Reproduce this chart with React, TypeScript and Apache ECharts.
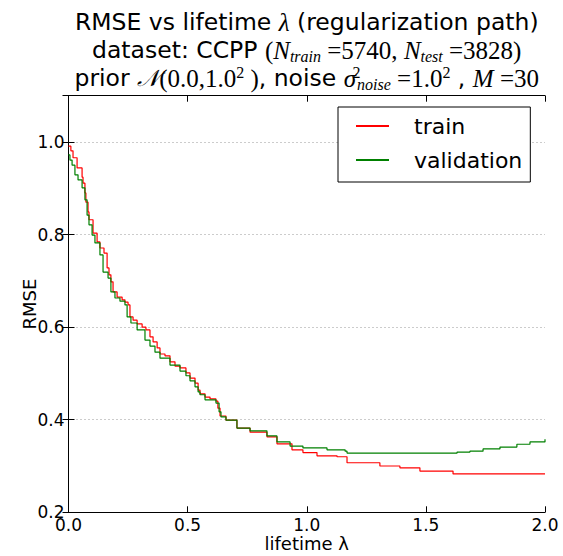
import React, { useEffect, useRef } from "react";
import * as echarts from "echarts";

const trainX = [0, 0.010, 0.019, 0.036, 0.057, 0.061, 0.069, 0.073, 0.082, 0.086, 0.103, 0.120, 0.132, 0.149, 0.162, 0.170, 0.178, 0.187, 0.204, 0.225, 0.237, 0.250, 0.258, 0.271, 0.288, 0.309, 0.325, 0.342, 0.355, 0.372, 0.384, 0.405, 0.426, 0.447, 0.468, 0.493, 0.510, 0.531, 0.544, 0.552, 0.573, 0.594, 0.619, 0.627, 0.636, 0.661, 0.707, 0.762, 0.833, 0.875, 0.938, 0.984, 1.043, 1.127, 1.169, 1.307, 1.391, 1.475, 1.614, 1.811, 2.0];
const trainY = [0.991, 0.981, 0.966, 0.944, 0.924, 0.911, 0.890, 0.870, 0.849, 0.832, 0.803, 0.784, 0.771, 0.760, 0.728, 0.713, 0.698, 0.676, 0.665, 0.659, 0.654, 0.648, 0.622, 0.615, 0.607, 0.600, 0.594, 0.579, 0.568, 0.555, 0.542, 0.538, 0.525, 0.516, 0.512, 0.501, 0.490, 0.479, 0.464, 0.456, 0.449, 0.445, 0.440, 0.425, 0.408, 0.399, 0.382, 0.373, 0.363, 0.348, 0.335, 0.329, 0.322, 0.320, 0.307, 0.300, 0.296, 0.289, 0.283, 0.283, 0.283];

const valX = [0, 0.006, 0.015, 0.027, 0.040, 0.057, 0.069, 0.078, 0.086, 0.099, 0.111, 0.132, 0.145, 0.166, 0.178, 0.195, 0.216, 0.237, 0.246, 0.262, 0.288, 0.321, 0.342, 0.363, 0.384, 0.426, 0.468, 0.493, 0.510, 0.531, 0.544, 0.552, 0.573, 0.619, 0.632, 0.640, 0.661, 0.707, 0.762, 0.833, 0.875, 0.930, 0.984, 1.085, 1.161, 1.169, 1.307, 1.530, 1.631, 1.685, 1.740, 1.811, 1.882, 1.937, 2.0];
const valY = [0.972, 0.961, 0.950, 0.929, 0.918, 0.901, 0.875, 0.842, 0.821, 0.799, 0.782, 0.756, 0.719, 0.706, 0.676, 0.663, 0.656, 0.648, 0.622, 0.609, 0.594, 0.572, 0.559, 0.546, 0.533, 0.518, 0.505, 0.495, 0.484, 0.471, 0.460, 0.454, 0.443, 0.436, 0.417, 0.406, 0.399, 0.382, 0.376, 0.365, 0.352, 0.343, 0.339, 0.335, 0.332, 0.328, 0.328, 0.328, 0.330, 0.332, 0.337, 0.341, 0.347, 0.352, 0.358];

const seriesNames = ["train", "validation"];
const xTicks = { min: 0, max: 2, interval: 0.5 };
const yTicks = { min: 0.2, max: 1.1, interval: 0.2 };

const titleLines = [
  "RMSE vs lifetime {mi|λ} (regularization path)",
  "dataset: CCPP {mu|(}{mi|N}{s|train}{mu| =5740, }{mi|N}{s|test}{mu| =3828)}",
  "prior {mc|𝒩}{mu|(0.0,1.0}{p|2}{mu| )}, noise {mi|σ}{p0|2}{s|noise}{mu| =1.0}{p|2} , {mi|M}{mu| =30}",
];

const SANS = "'DejaVu Sans', sans-serif";
const SERIF = "'Liberation Serif', 'DejaVu Serif', serif";

export default function App() {
  const ref = useRef<HTMLDivElement>(null);
  useEffect(() => {
    const chart = echarts.init(ref.current!, null, { renderer: "svg" });
    const zip = (xs: number[], ys: number[]) => xs.map((x, i) => [x, ys[i]]);
    const fmt1 = (v: number) => v.toFixed(1);
    const frame = { show: true, lineStyle: { color: "#000", width: 1 } };
    chart.setOption({
      animation: false,
      backgroundColor: "#fff",
      grid: { left: 68.5, right: 18, top: 95.7, bottom: 43.7, containLabel: false, outerBoundsMode: "none" },
      graphic: [
        {
          type: "text",
          x: 306.75,
          y: 8,
          style: {
            text: titleLines.join("\n"),
            align: "center",
            verticalAlign: "top",
            fontFamily: SANS,
            fontSize: 23.5,
            lineHeight: 28,
            fill: "#000",
            rich: {
              mi: { fontFamily: SERIF, fontStyle: "italic", fontSize: 25, lineHeight: 28 },
              mc: { fontFamily: SERIF, fontStyle: "italic", fontSize: 23, lineHeight: 28 },
              mu: { fontFamily: SERIF, fontSize: 25, lineHeight: 28 },
              s: { fontFamily: SERIF, fontStyle: "italic", fontSize: 16, lineHeight: 16, verticalAlign: "bottom" },
              p: { fontFamily: SERIF, fontSize: 16, lineHeight: 16, verticalAlign: "top" },
              p0: { fontFamily: SERIF, fontSize: 16, lineHeight: 16, verticalAlign: "top", width: 1 },
            },
          },
        },
      ],
      legend: {
        orient: "vertical",
        left: 338,
        top: 107,
        padding: [7, 8, 10, 17],
        borderColor: "#000",
        borderWidth: 1,
        backgroundColor: "#fff",
        itemWidth: 33,
        itemHeight: 14,
        itemGap: 10,
        itemStyle: { opacity: 0 },
        data: seriesNames,
        textStyle: { fontFamily: SANS, fontSize: 22, lineHeight: 24, color: "#000", padding: [0, 0, 0, 20] },
      },
      xAxis: [
        {
          type: "value",
          ...xTicks,
          name: "lifetime λ",
          nameLocation: "middle",
          nameGap: 22,
          nameMoveOverlap: false,
          nameTextStyle: { fontFamily: SANS, fontSize: 18, color: "#000" },
          axisLine: frame,
          axisTick: { show: true, inside: true, length: 6, lineStyle: { color: "#000" } },
          axisLabel: { fontFamily: SANS, fontSize: 17, color: "#000", margin: 4, formatter: fmt1 },
          splitLine: { show: false },
        },
        {
          type: "value",
          position: "top",
          ...xTicks,
          axisLine: frame,
          axisTick: { show: true, inside: true, length: 6, lineStyle: { color: "#000" } },
          axisLabel: { show: false },
          splitLine: { show: false },
        },
      ],
      yAxis: [
        {
          type: "value",
          ...yTicks,
          name: "RMSE",
          nameLocation: "middle",
          nameGap: 30,
          nameMoveOverlap: false,
          nameTextStyle: { fontFamily: SANS, fontSize: 18, color: "#000" },
          axisLine: frame,
          axisTick: { show: true, inside: true, length: 6, lineStyle: { color: "#000" } },
          axisLabel: {
            fontFamily: SANS,
            fontSize: 17,
            color: "#000",
            margin: 4,
            formatter: (v: number) => (Math.abs(v - 1.1) < 1e-6 ? "" : v.toFixed(1)),
          },
          splitLine: { show: true, lineStyle: { color: "#999", type: [1, 3], width: 1 } },
        },
        {
          type: "value",
          position: "right",
          ...yTicks,
          axisLine: frame,
          axisTick: { show: true, inside: true, length: 6, lineStyle: { color: "#000" } },
          axisLabel: { show: false },
          splitLine: { show: false },
        },
      ],
      series: [
        {
          name: seriesNames[0],
          type: "line",
          step: "end",
          symbol: "none",
          xAxisIndex: 0,
          yAxisIndex: 0,
          lineStyle: { color: "#ff0000", width: 1.2 },
          itemStyle: { color: "#ff0000" },
          data: zip(trainX, trainY),
        },
        {
          name: seriesNames[1],
          type: "line",
          step: "end",
          symbol: "none",
          xAxisIndex: 0,
          yAxisIndex: 0,
          lineStyle: { color: "#008000", width: 1.2 },
          itemStyle: { color: "#008000" },
          data: zip(valX, valY),
        },
      ],
    });
    return () => chart.dispose();
  }, []);
  return <div ref={ref} style={{ width: 563, height: 556, position: "absolute", left: 0, top: 0 }} />;
}
